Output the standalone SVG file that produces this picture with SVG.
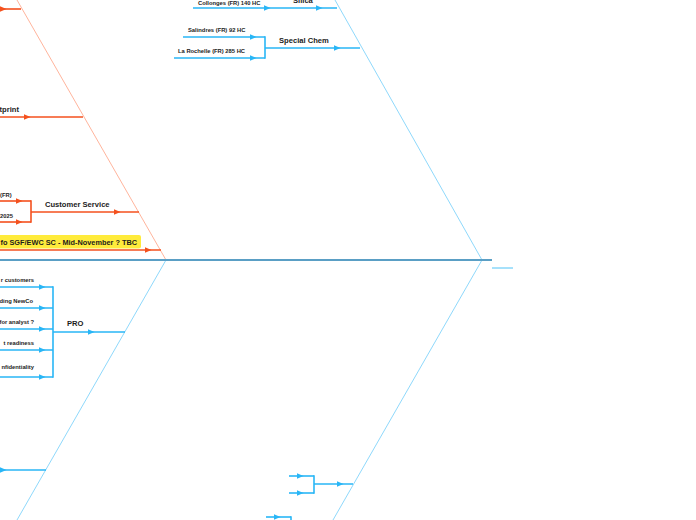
<svg xmlns="http://www.w3.org/2000/svg" width="696" height="520" viewBox="0 0 696 520">
<style>
text{font-family:"Liberation Sans",Arial,sans-serif;font-weight:bold;fill:#1c1c1c}
.sub{font-size:5.8px}
.main{font-size:7.6px}
.ob{fill:none;stroke:#f4511e;stroke-width:1.6;marker-mid:url(#ao)}
.oln{fill:none;stroke:#f4511e;stroke-width:1.6}
.bb{fill:none;stroke:#29b6f6;stroke-width:1.6;marker-mid:url(#ab)}
.bln{fill:none;stroke:#29b6f6;stroke-width:1.6}
.od{stroke:#ffab91;stroke-width:0.9;fill:none}
.bd{stroke:#81d4fa;stroke-width:0.9;fill:none}
</style>
<defs>
<marker id="ao" markerUnits="userSpaceOnUse" markerWidth="8" markerHeight="7" refX="3.5" refY="3" orient="auto"><path d="M0,0 L7,3 L0,6 z" fill="#f4511e"/></marker>
<marker id="ab" markerUnits="userSpaceOnUse" markerWidth="8" markerHeight="7" refX="3.5" refY="3" orient="auto"><path d="M0,0 L7,3 L0,6 z" fill="#29b6f6"/></marker>
</defs>
<rect width="696" height="520" fill="#ffffff"/>
<g id="connectors">
<line class="od" x1="17" y1="0" x2="166" y2="260"/>
<line class="bd" x1="166" y1="260" x2="17" y2="520"/>
<line class="bd" x1="335" y1="0" x2="482" y2="260"/>
<line class="bd" x1="482" y1="260" x2="333" y2="520"/>
<line x1="0" y1="260" x2="492" y2="260" stroke="#5a9fc5" stroke-width="2"/>
<line x1="492" y1="268" x2="513" y2="268" stroke="#4fc3f7" stroke-width="1"/>
</g>
<g id="branch-top-orange">
<polyline class="ob" points="-2,9 3,9 21,9"/>
</g>
<g id="footprint">
<polyline class="ob" points="0,117 27,117 83,117"/>
<text class="main" x="19" y="112" text-anchor="end">tprint</text>
</g>
<g id="customer-service">
<polyline class="ob" points="0,201 19,201 31,201"/>
<polyline class="ob" points="0,222 19,222 31,222"/>
<line class="oln" x1="31" y1="200.2" x2="31" y2="222.8"/>
<polyline class="ob" points="31,212 117,212 139,212"/>
<text class="sub" x="0" y="196.5">(FR)</text>
<text class="sub" x="0" y="217.5">2025</text>
<text class="main" x="45" y="206.5">Customer Service</text>
</g>
<g id="info-sgf">
<rect x="-6" y="235" width="147" height="13.5" rx="2" fill="#ffeb3b"/>
<text class="main" x="0.5" y="244.5" font-size="7.2" textLength="136.5" lengthAdjust="spacingAndGlyphs">fo SGF/EWC SC - Mid-November ? TBC</text>
<polyline class="ob" points="0,250 148,250 161,250"/>
</g>
<g id="silica">
<polyline class="bb" points="193,8 267,8 319,8 337,8"/>
<text class="sub" x="198" y="4.5">Collonges (FR) 140 HC</text>
<text class="main" x="293" y="3.2">Silica</text>
</g>
<g id="special-chem">
<polyline class="bb" points="183,37 253,37 265,37"/>
<polyline class="bb" points="174,58 253,58 265,58"/>
<line class="bln" x1="265" y1="36.2" x2="265" y2="58.8"/>
<polyline class="bb" points="265,48 337,48 360,48"/>
<text class="sub" x="188" y="32">Salindres (FR) 92 HC</text>
<text class="sub" x="178" y="53">La Rochelle (FR) 285 HC</text>
<text class="main" x="279" y="42.5">Special Chem</text>
</g>
<g id="pro">
<polyline class="bb" points="0,287 42,287 53,287"/>
<polyline class="bb" points="0,308 42,308 53,308"/>
<polyline class="bb" points="0,329 42,329 53,329"/>
<polyline class="bb" points="0,350 42,350 53,350"/>
<polyline class="bb" points="0,377 42,377 53,377"/>
<line class="bln" x1="53" y1="286.2" x2="53" y2="377.8"/>
<polyline class="bb" points="53,332 91,332 125,332"/>
<text class="sub" x="34" y="282" text-anchor="end">r customers</text>
<text class="sub" x="33" y="303" text-anchor="end">ding NewCo</text>
<text class="sub" x="34" y="324" text-anchor="end">for analyst ?</text>
<text class="sub" x="34" y="345" text-anchor="end">t readiness</text>
<text class="sub" x="34" y="369" text-anchor="end">nfidentiality</text>
<text class="main" x="67" y="326">PRO</text>
</g>
<g id="bottom-left">
<polyline class="bb" points="-2,470 3,470 46,470"/>
</g>
<g id="bottom-right">
<polyline class="bb" points="289,476 300,476 314,476"/>
<polyline class="bb" points="289,493 300,493 314,493"/>
<line class="bln" x1="314" y1="475.2" x2="314" y2="493.8"/>
<polyline class="bb" points="314,484 340,484 353,484"/>
</g>
<g id="bottom-right-2">
<polyline class="bb" points="266,517 277,517 291,517"/>
<line class="bln" x1="291" y1="516.2" x2="291" y2="522"/>
</g>
</svg>
